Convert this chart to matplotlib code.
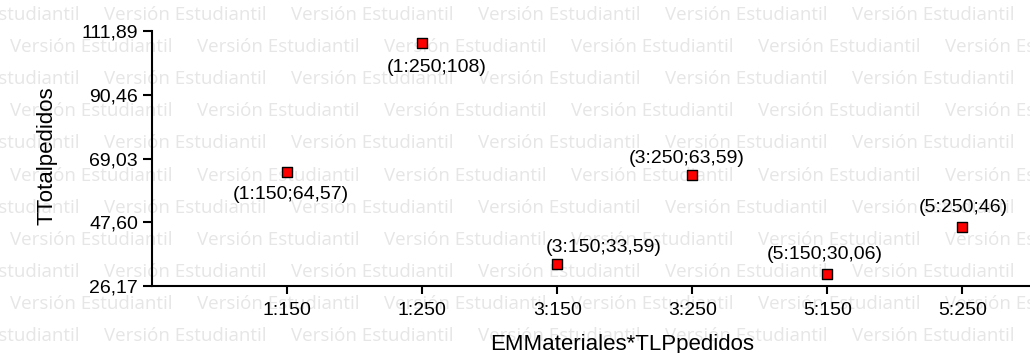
import matplotlib
matplotlib.use("Agg")
import matplotlib.pyplot as plt

# Data
categories = ["1:150", "1:250", "3:150", "3:250", "5:150", "5:250"]
totals = [64.57, 108.0, 33.59, 63.59, 30.06, 46.0]
y_ticks = [26.17, 47.60, 69.03, 90.46, 111.89]
y_tick_labels = ["26,17", "47,60", "69,03", "90,46", "111,89"]
x_title = "EMMateriales*TLPpedidos"
y_title = "TTotalpedidos"
watermark = "Versión Estudiantil"

# Label placement (pixel offsets from each marker, +y is up)
label_offsets = [(4, -23), (15, -25), (46, 16), (-6, 16), (-3, 20), (1, 20)]

W, H = 1030, 353
plt.rcParams["font.family"] = ["Liberation Sans", "DejaVu Sans"]

fig = plt.figure(figsize=(W / 100, H / 100), dpi=100)
fig.patch.set_facecolor("white")

# Background watermark rows
row_step = 32.1
for r in range(11):
    yc = 15 + r * row_step
    x0 = -83 if r % 2 == 0 else 10
    x = x0
    while x < W:
        fig.text(x / W, 1 - yc / H, watermark, fontsize=13.5, color="#e6e6e6",
                 ha="left", va="center", family=["Open Sans", "DejaVu Sans"], zorder=-5)
        x += 187

ax = fig.add_axes([152 / W, 67 / H, (W - 152) / W, 255 / H])
ax.patch.set_visible(False)

xs = list(range(1, len(categories) + 1))
ax.scatter(xs, totals, marker="s", s=55, facecolor="#ff0000", edgecolor="black",
           linewidths=1.0, zorder=3, clip_on=False)

for x, v, cat, (dx, dy) in zip(xs, totals, categories, label_offsets):
    txt = f"{v:g}".replace(".", ",")
    ax.annotate(f"({cat};{txt})", xy=(x, v), xytext=(dx, dy), textcoords="offset pixels",
                ha="center", va="center", fontsize=14, color="black", zorder=4)

ax.set_xlim(0, 6.5)
ax.set_ylim(y_ticks[0], y_ticks[-1])
ax.set_xticks(xs)
ax.set_xticklabels(categories)
ax.set_yticks(y_ticks)
ax.set_yticklabels(y_tick_labels)

for s in ("top", "right"):
    ax.spines[s].set_visible(False)
for s in ("left", "bottom"):
    ax.spines[s].set_linewidth(1.5)
    ax.spines[s].set_color("black")

ax.tick_params(axis="y", direction="out", length=6.5, width=1.5, pad=3.6, labelsize=14)
ax.tick_params(axis="x", direction="out", length=5.8, width=1.5, pad=5.8, labelsize=14)

fig.text(622 / W, 1 - 350 / H, x_title, fontsize=16, ha="center", va="baseline")
fig.text(52 / W, 1 - 156 / H, y_title, fontsize=16, ha="center", va="baseline",
         rotation=90, rotation_mode="anchor")

fig.savefig("out.png", dpi=100, facecolor="white")
